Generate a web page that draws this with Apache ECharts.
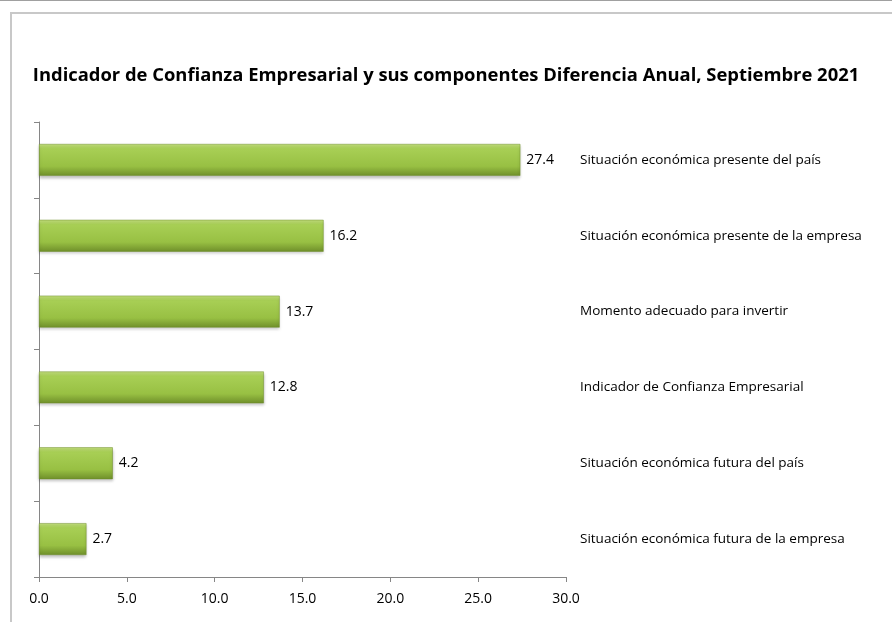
<!DOCTYPE html>
<html lang="es">
<head>
    <meta charset="UTF-8">
    <title>Indicador de Confianza Empresarial</title>
    <script src="https://cdn.jsdelivr.net/npm/echarts@6/dist/echarts.min.js"></script>
    <style>
        html, body { margin: 0; padding: 0; background: #fff; }
        #frame { position: absolute; left: 10px; top: 12px; width: 900px; height: 630px; border: 2px solid #c8c8c8; box-sizing: border-box; }
        #topline { position: absolute; left: 0; top: 0; width: 892px; height: 1px; background: #a0a0a0; }
        #chart { position: absolute; left: 0; top: 0; width: 892px; height: 622px; }
    </style>
</head>
<body>
    <div id="topline"></div>
    <div id="frame"></div>
    <div id="chart"></div>
    <script>
        var categories = [
            'Situación económica presente del país',
            'Situación económica presente de la empresa',
            'Momento adecuado para invertir',
            'Indicador de Confianza Empresarial',
            'Situación económica futura del país',
            'Situación económica futura de la empresa'
        ]
        var values = [27.4, 16.2, 13.7, 12.8, 4.2, 2.7]
        var xTicks = [0, 5, 10, 15, 20, 25, 30]

        var chart = echarts.init(document.getElementById('chart'))
        var font = '"Open Sans", sans-serif'

        var barColor = new echarts.graphic.LinearGradient(0, 0, 0, 1, [
            { offset: 0, color: '#c4e07e' },
            { offset: 0.15, color: '#a8cf55' },
            { offset: 0.7, color: '#98c043' },
            { offset: 1, color: '#6f8f2a' }
        ])

        var options = {
            animation: false,
            title: {
                text: 'Indicador de Confianza Empresarial y sus componentes Diferencia Anual, Septiembre 2021',
                left: 'center',
                top: 62,
                textStyle: { fontFamily: font, fontSize: 18.4, fontWeight: 'bold', color: '#000' }
            },
            grid: { left: 39, right: 326, top: 122, bottom: 45 },
            xAxis: {
                type: 'value',
                min: xTicks[0],
                max: xTicks[xTicks.length - 1],
                interval: 5,
                axisLine: { show: true, lineStyle: { color: '#868686' } },
                axisTick: { show: true, length: 5, lineStyle: { color: '#868686' } },
                splitLine: { show: false },
                axisLabel: {
                    margin: 15,
                    fontFamily: font, fontSize: 14, color: '#000',
                    formatter: function (v) { return v.toFixed(1) }
                }
            },
            yAxis: [{
                type: 'category',
                data: categories,
                inverse: true,
                position: 'left',
                axisLine: { show: true, lineStyle: { color: '#868686' } },
                axisTick: { show: true, length: 5, lineStyle: { color: '#868686' } },
                axisLabel: { show: false }
            }, {
                type: 'category',
                data: categories,
                inverse: true,
                position: 'right',
                axisLine: { show: false },
                axisTick: { show: false },
                axisLabel: {
                    margin: 14,
                    align: 'left',
                    fontFamily: font, fontSize: 13.5, color: '#000'
                }
            }],
            series: [{
                type: 'bar',
                data: values,
                barWidth: '42%',
                itemStyle: {
                    color: barColor,
                    borderColor: '#6f8f2a',
                    borderWidth: 0.5,
                    shadowColor: 'rgba(0,0,0,0.25)',
                    shadowBlur: 3,
                    shadowOffsetY: 2
                },
                label: {
                    show: true,
                    position: 'right',
                    distance: 6,
                    fontFamily: font, fontSize: 14, color: '#000',
                    formatter: function (p) { return p.value.toFixed(1) }
                }
            }]
        }
        chart.setOption(options)
    </script>
</body>
</html>
